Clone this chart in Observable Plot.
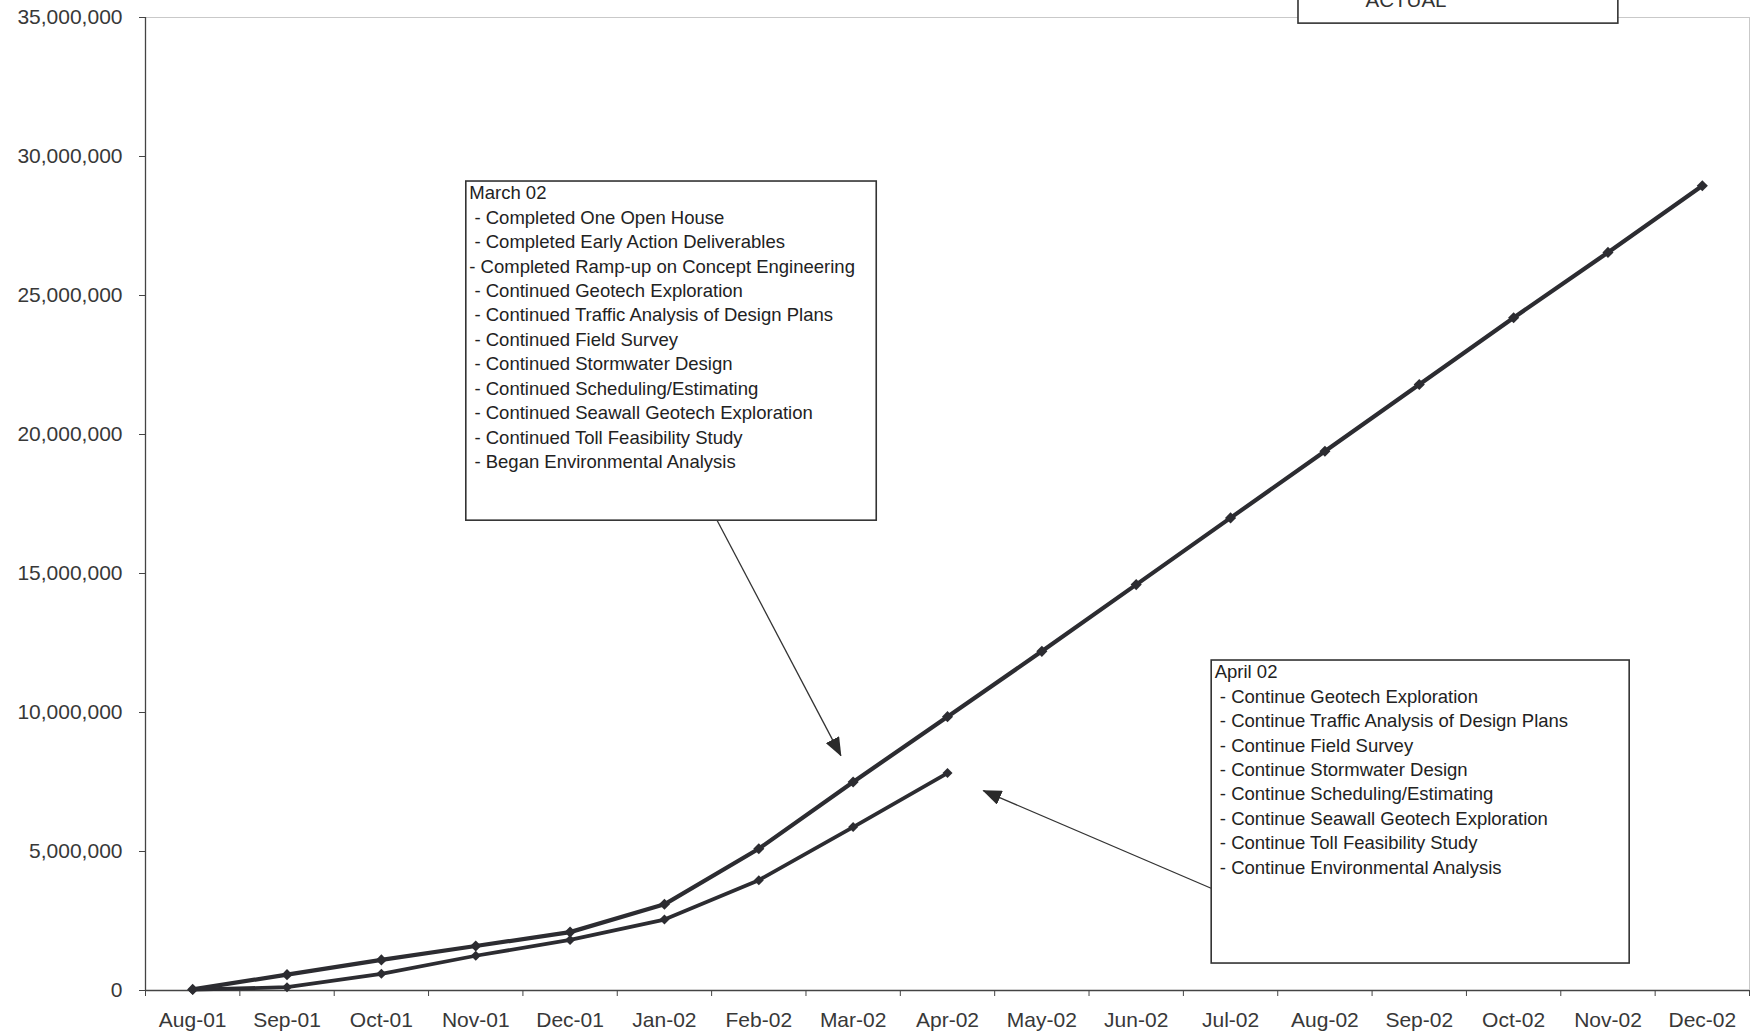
<!DOCTYPE html>
<html>
<head>
<meta charset="utf-8">
<script src="https://cdn.jsdelivr.net/npm/d3@7"></script>
<script src="https://cdn.jsdelivr.net/npm/@observablehq/plot@0.6"></script>
<style>
  html, body { margin: 0; padding: 0; background: #ffffff; }
  #chart svg { display: block; }
  .notes text, text.notes, .notes tspan { white-space: pre; }
</style>
</head>
<body>
<div id="chart"></div>
<script>
// Monthly categories on the x axis
const months = ["Aug-01", "Sep-01", "Oct-01", "Nov-01", "Dec-01", "Jan-02", "Feb-02", "Mar-02", "Apr-02",
                "May-02", "Jun-02", "Jul-02", "Aug-02", "Sep-02", "Oct-02", "Nov-02", "Dec-02"];

// Cumulative planned spending (dollars), full schedule
const planned = [40000, 570000, 1100000, 1600000, 2100000, 3100000, 5100000, 7500000, 9850000,
                 12200000, 14600000, 17000000, 19400000, 21800000, 24200000, 26550000, 28950000];

// Cumulative actual spending (dollars), reported through Apr-02
const actual = [30000, 120000, 600000, 1250000, 1820000, 2550000, 3970000, 5880000, 7820000];

// Y axis tick values
const yTicks = [0, 5000000, 10000000, 15000000, 20000000, 25000000, 30000000, 35000000];

// Legend entry visible under the top edge
const legendLabels = ["ACTUAL"];

// Progress notes
const marchNotes = [
  "March 02",
  " - Completed One Open House",
  " - Completed Early Action Deliverables",
  "- Completed Ramp-up on Concept Engineering",
  " - Continued Geotech Exploration",
  " - Continued Traffic Analysis of Design Plans",
  " - Continued Field Survey",
  " - Continued Stormwater Design",
  " - Continued Scheduling/Estimating",
  " - Continued Seawall Geotech Exploration",
  " - Continued Toll Feasibility Study",
  " - Began Environmental Analysis"
];
const aprilNotes = [
  "April 02",
  " - Continue Geotech Exploration",
  " - Continue Traffic Analysis of Design Plans",
  " - Continue Field Survey",
  " - Continue Stormwater Design",
  " - Continue Scheduling/Estimating",
  " - Continue Seawall Geotech Exploration",
  " - Continue Toll Feasibility Study",
  " - Continue Environmental Analysis"
];

// Long tables for the line marks
const plannedRows = planned.map((value, i) => ({i, value, series: "PLANNED"}));
const actualRows = actual.map((value, i) => ({i, value, series: "ACTUAL"}));

// Callout layout, in month-index / dollar units
const noteBoxes = [
  {x1: 2.90, x2: 7.25, y1: 16.9e6, y2: 29.1e6, lines: marchNotes},
  {x1: 10.80, x2: 15.23, y1: 0.97e6, y2: 11.87e6, lines: aprilNotes}
];
const pointers = [
  {x1: 5.56, y1: 16.9e6, x2: 6.87, y2: 8.45e6},
  {x1: 10.80, y1: 3.67e6, x2: 8.38, y2: 7.19e6}
];
const legendBox = [{x1: 11.72, x2: 15.11, y1: 34.78e6, y2: 37.5e6}];
const legendText = [{x: 12.86, y: 35.36e6, label: legendLabels[0]}];

const ink = "#2c2c31";
const font = '"Liberation Sans", Arial, Helvetica, sans-serif';

const chart = Plot.plot({
  width: 1762,
  height: 1036,
  marginLeft: 145,
  marginRight: 13,
  marginTop: 17,
  marginBottom: 46,
  x: {type: "linear", domain: [-0.5, months.length - 0.5]},
  y: {domain: [0, 35000000]},
  style: {fontFamily: font, color: "#333", background: "#ffffff", overflow: "visible"},
  marks: [
    // faint plot-area border on top and right
    Plot.ruleY([35000000], {stroke: "#c9c9c9", strokeWidth: 1}),
    Plot.ruleX([months.length - 0.5], {stroke: "#c9c9c9", strokeWidth: 1}),

    Plot.axisY({ticks: yTicks, tickSize: 6, tickPadding: 17, fontSize: 21,
                tickFormat: d3.format(","), label: null, stroke: "#444", fill: "#383838"}),
    Plot.axisX({ticks: d3.range(months.length), tickSize: 0, tickPadding: 22, fontSize: 21,
                tickFormat: i => months[i], label: null, fill: "#383838"}),
    Plot.axisX({ticks: d3.range(months.length + 1).map(k => k - 0.5), tickSize: 6,
                tickFormat: () => "", label: null, stroke: "#444"}),
    Plot.ruleX([-0.5], {stroke: "#444", strokeWidth: 1.3}),
    Plot.ruleY([0], {stroke: "#444", strokeWidth: 1.3}),

    // series
    Plot.line(plannedRows, {x: "i", y: "value", stroke: ink, strokeWidth: 4.2}),
    Plot.line(actualRows, {x: "i", y: "value", stroke: ink, strokeWidth: 3.8}),
    Plot.dot(plannedRows, {x: "i", y: "value", symbol: "diamond2", r: 5, fill: ink}),
    Plot.dot(actualRows, {x: "i", y: "value", symbol: "diamond2", r: 4.5, fill: ink}),

    // callouts
    Plot.link(pointers, {x1: "x1", y1: "y1", x2: "x2", y2: "y2", stroke: "#333",
                         strokeWidth: 1.3, className: "pointer"}),
    Plot.rect(noteBoxes, {x1: "x1", x2: "x2", y1: "y1", y2: "y2", fill: "#ffffff",
                          stroke: "#333", strokeWidth: 1.6}),
    Plot.text(noteBoxes, {x: "x1", y: "y2", text: d => d.lines.join("\n"),
                          dx: 3, dy: 0.5, textAnchor: "start", lineAnchor: "top",
                          lineHeight: 1.32, fontSize: 18.5, fill: "#222", className: "notes"}),

    // legend (top edge)
    Plot.rect(legendBox, {x1: "x1", x2: "x2", y1: "y1", y2: "y2", fill: "#ffffff",
                          stroke: "#333", strokeWidth: 1.6}),
    Plot.text(legendText, {x: "x", y: "y", text: "label", fontSize: 20.5,
                           lineAnchor: "bottom", fill: "#333"})
  ]
});

// filled triangular heads for the callout pointers
const svg = d3.select(chart);
svg.append("defs").append("marker")
  .attr("id", "pointer-head")
  .attr("viewBox", "0 -7.5 19 15")
  .attr("refX", 18)
  .attr("refY", 0)
  .attr("markerWidth", 19)
  .attr("markerHeight", 15)
  .attr("markerUnits", "userSpaceOnUse")
  .attr("orient", "auto")
  .append("path")
  .attr("d", "M0,-7.5L19,0L0,7.5Z")
  .attr("fill", "#2a2a2a");
svg.selectAll(".pointer path").attr("marker-end", "url(#pointer-head)");

document.getElementById("chart").appendChild(chart);
</script>
</body>
</html>
